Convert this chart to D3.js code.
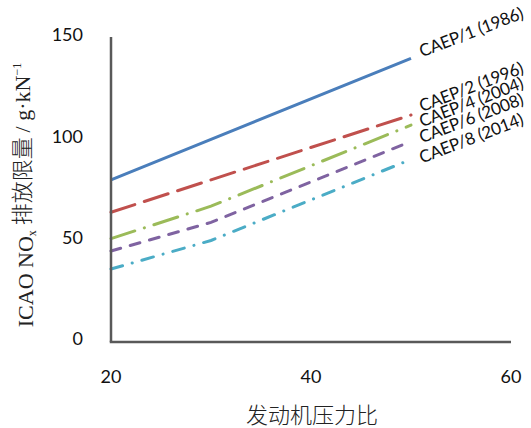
<!DOCTYPE html>
<html>
<head>
<meta charset="utf-8">
<script src="https://cdn.jsdelivr.net/npm/d3@7"></script>
<style>
  body { margin: 0; background: #fff; }
</style>
</head>
<body>
<div id="chart"></div>
<script>
// pressure ratio break points and NOx limits
const pressureRatio = [20, 30, 50];
const caep1 = [80, 100, 140];
const caep2 = [64, 80, 112];
const caep4 = [51, 67, 107];
const caep6 = [44.9, 59, 99];
const caep8 = [36, 50.1, 90.1];
const seriesNames = ["CAEP/1 (1986)", "CAEP/2 (1996)", "CAEP/4 (2004)", "CAEP/6 (2008)", "CAEP/8 (2014)"];
const xTicks = [20, 40, 60];
const yTicks = [0, 50, 100, 150];

function chart () {
    const width = 531;
    const height = 428;

    const series = [caep1, caep2, caep4, caep6, caep8];
    const colors = ["#4a7ebb", "#c0504d", "#9bbb59", "#7f63a1", "#4bacc6"];
    const dashes = [null, "25 10", "25 10 0.1 10", "10 10", "12 10 0.1 10"];
    // nudge the end labels apart so they don't collide
    const labelShift = [-1, -3, 2, 2, 4];

    const xScale = d3.scaleLinear().domain([20, 60]).range([111, 511]);
    const yScale = d3.scaleLinear().domain([0, 150]).range([342, 38]);

    const svg = d3.select("#chart").append("svg")
        .attr("width", width)
        .attr("height", height);

    const line = d3.line()
        .x((d, i) => xScale(pressureRatio[i]))
        .y(d => yScale(d));

    // lines
    series.forEach((s, k) => {
        svg.append('path').datum(s)
            .attr('fill', 'none')
            .attr('stroke', colors[k])
            .attr('stroke-width', 3)
            .attr('stroke-linecap', dashes[k] ? 'round' : 'butt')
            .attr('stroke-dasharray', dashes[k])
            .attr('d', line);
    });

    // end labels
    series.forEach((s, k) => {
        const x = xScale(pressureRatio[pressureRatio.length - 1]) + 11;
        const y = yScale(s[s.length - 1]) + labelShift[k];
        svg.append('text')
            .attr('transform', 'translate(' + x + ',' + y + ') rotate(-21)')
            .attr('font-family', 'Lato, sans-serif')
            .attr('font-size', 17)
            .attr('letter-spacing', -0.2)
            .attr('fill', '#111')
            .text(seriesNames[k]);
    });

    // axes lines
    svg.append('line')
        .attr('x1', xScale(20)).attr('x2', xScale(20))
        .attr('y1', yScale(150) - 1).attr('y2', yScale(0))
        .attr('stroke', '#595959').attr('stroke-width', 2.5);
    svg.append('line')
        .attr('x1', xScale(20) - 1.25).attr('x2', xScale(60))
        .attr('y1', yScale(0)).attr('y2', yScale(0))
        .attr('stroke', '#595959').attr('stroke-width', 2.5);

    // tick labels
    svg.selectAll('.ytick').data(yTicks).join('text')
        .attr('x', 83)
        .attr('y', d => yScale(d) - 3)
        .attr('dy', '0.35em')
        .attr('text-anchor', 'end')
        .attr('font-family', 'Lato, sans-serif')
        .attr('font-size', 18)
        .attr('fill', '#111')
        .text(d => d);

    svg.selectAll('.xtick').data(xTicks).join('text')
        .attr('x', d => xScale(d))
        .attr('y', 377)
        .attr('dy', '0.35em')
        .attr('text-anchor', 'middle')
        .attr('font-family', 'Lato, sans-serif')
        .attr('font-size', 18)
        .attr('fill', '#111')
        .text(d => d);

    // axis titles
    svg.append('text')
        .attr('x', 312).attr('y', 415)
        .attr('dy', '0.35em')
        .attr('text-anchor', 'middle')
        .attr('font-family', '"Noto Sans CJK SC", sans-serif')
        .attr('font-weight', 300)
        .attr('font-size', 22)
        .attr('fill', '#222')
        .text('发动机压力比');

    const yt = svg.append('text')
        .attr('transform', 'translate(25,195) rotate(-90)')
        .attr('dy', '0.35em')
        .attr('text-anchor', 'middle')
        .attr('font-family', '"Liberation Serif", "Noto Sans CJK SC", serif')
        .attr('font-size', 22)
        .attr('fill', '#222');
    yt.append('tspan').text('ICAO NO');
    yt.append('tspan').attr('font-size', 12).attr('dy', '0.3em').text('x');
    yt.append('tspan').attr('dy', '-0.3em').attr('font-family', '"Noto Sans CJK SC", sans-serif').attr('font-weight', 300).text(' 排放限量 ');
    yt.append('tspan').text('/ g·kN');
    yt.append('tspan').attr('font-size', 12).attr('dy', '-0.7em').text('−1');
}
chart()
</script>
</body>
</html>
